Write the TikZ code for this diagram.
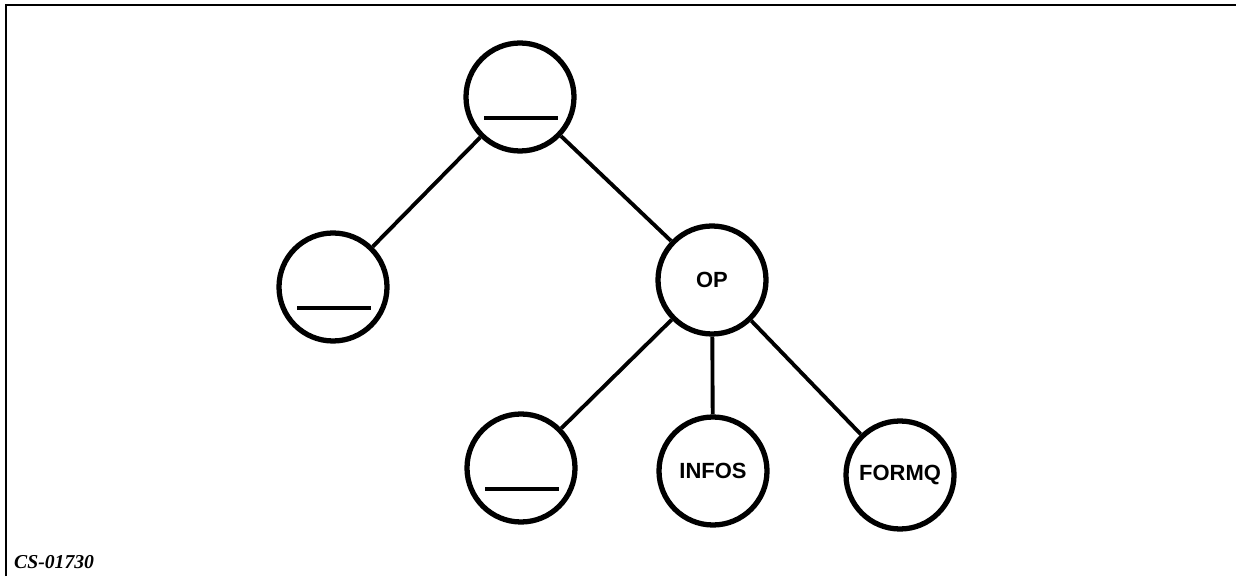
\documentclass[tikz,border=0pt]{standalone}
\usepackage{fontspec}
\setmainfont{Liberation Serif}
\newfontfamily\helv{Liberation Sans Bold}
\begin{document}
\begin{tikzpicture}[
    knot/.style={draw, circle, line width=3pt, minimum size=2.16cm, inner sep=0pt, font=\helv\fontsize{12.5}{14}\selectfont},
    branch/.style={line width=2.2pt},
    blank/.style={line width=2.4pt}
  ]
		\useasboundingbox (0,0) rectangle (24.72,11.52);
		\draw[line width=1.2pt] (0.12,0) -- (0.12,11.42) -- (24.72,11.42);

		\node[knot] (root) at (10.40,9.58) {};
		\node[knot] (left) at (6.66,5.78) {};
		\node[knot] (op) at (14.24,5.92) {OP};
		\node[knot] (low) at (10.42,2.16) {};
		\node[knot] (infos) at (14.26,2.10) {INFOS};
		\node[knot] (formq) at (18.00,2.02) {FORMQ};

	    \foreach \n in {root,left,low}
	      \draw[blank] ([xshift=-0.72cm,yshift=-0.42cm]\n.center) -- ++(1.48,0);

	    \draw[branch] (root) -- (left);
	    \draw[branch] (root) -- (op);
	    \draw[branch] (op) -- (low);
	    \draw[branch] (op) -- (infos);
	    \draw[branch] (op) -- (formq);

		\node[anchor=base west, font=\bfseries\itshape\fontsize{11.2}{13}\selectfont] (label) at (0.16,0.16) {CS-01730};
\end{tikzpicture}
\end{document}
